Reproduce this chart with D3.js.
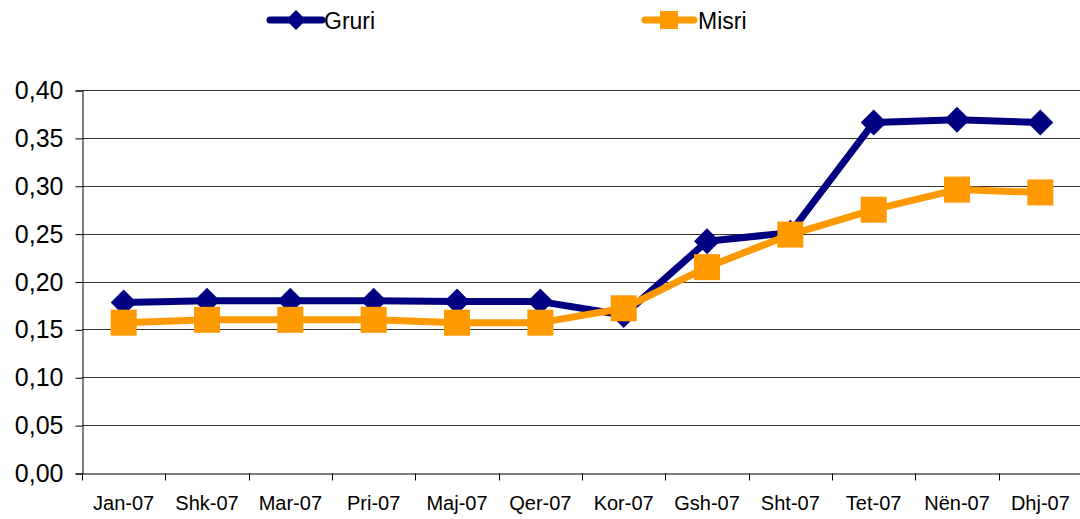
<!DOCTYPE html>
<html>
<head>
<meta charset="utf-8">
<script src="https://cdn.jsdelivr.net/npm/d3@7"></script>
<style>
  body { margin: 0; background: #fff; }
  text { font-family: "Liberation Sans", Arial, sans-serif; fill: #000; }
</style>
</head>
<body>
<div id="chart"></div>
<script>
var months = ["Jan-07","Shk-07","Mar-07","Pri-07","Maj-07","Qer-07","Kor-07","Gsh-07","Sht-07","Tet-07","Nën-07","Dhj-07"];
var gruri = [0.178,0.180,0.180,0.180,0.179,0.179,0.165,0.242,0.251,0.366,0.369,0.366];
var misri = [0.157,0.160,0.160,0.160,0.157,0.157,0.172,0.215,0.249,0.275,0.296,0.293];
var yTicks = [0,0.05,0.10,0.15,0.20,0.25,0.30,0.35,0.40];

var width = 1080, height = 519;
var plotLeft = 82, plotRight = 1082, plotTop = 90, plotBottom = 473;

var svg = d3.select("#chart").append("svg")
    .attr("width", width).attr("height", height);

var x = d3.scaleBand().domain(months).range([plotLeft, plotRight]);
var y = d3.scaleLinear().domain([0, 0.4]).range([plotBottom, plotTop]);
var fmt = function(d){ return d3.format(".2f")(d).replace(".", ","); };

// gridlines
svg.append("g").selectAll("line").data(yTicks.slice(1)).enter().append("line")
    .attr("x1", plotLeft).attr("x2", plotRight)
    .attr("y1", function(d){ return Math.round(y(d)) + 0.5; })
    .attr("y2", function(d){ return Math.round(y(d)) + 0.5; })
    .attr("stroke", "#333").attr("stroke-width", 1);

// y axis
var yAxis = svg.append("g")
    .attr("transform", "translate(" + (plotLeft + 0.5) + ",0.5)")
    .call(d3.axisLeft(y).tickValues(yTicks).tickFormat(fmt).tickSize(7).tickPadding(12));
yAxis.selectAll("text").style("font-size", "25px");

// x axis with ticks at category boundaries
var xAxis = svg.append("g")
    .attr("transform", "translate(0," + (plotBottom + 0.5) + ")")
    .call(d3.axisBottom(x).tickSize(0).tickPadding(22));
xAxis.selectAll("text").style("font-size", "20px");
xAxis.append("g").selectAll("line").data(d3.range(months.length + 1)).enter().append("line")
    .attr("x1", function(i){ return Math.round(plotLeft + i * x.step()) + 0.5; })
    .attr("x2", function(i){ return Math.round(plotLeft + i * x.step()) + 0.5; })
    .attr("y1", 0).attr("y2", 7)
    .attr("stroke", "#000");
svg.selectAll(".domain").attr("stroke", "#000");

var cx = function(d, i){ return x(months[i]) + x.bandwidth() / 2; };
var line = d3.line().x(cx).y(function(d){ return y(d); });

// Gruri
svg.append("path").datum(gruri)
    .attr("fill", "none").attr("stroke", "#000080").attr("stroke-width", 7)
    .attr("stroke-linejoin", "round").attr("d", line);
svg.append("g").selectAll("path").data(gruri).enter().append("path")
    .attr("transform", function(d, i){ return "translate(" + cx(d, i) + "," + y(d) + ")"; })
    .attr("d", "M0,-13L13,0L0,13L-13,0Z")
    .attr("fill", "#000080");

// Misri
svg.append("path").datum(misri)
    .attr("fill", "none").attr("stroke", "#ff9900").attr("stroke-width", 7)
    .attr("stroke-linejoin", "round").attr("d", line);
svg.append("g").selectAll("rect").data(misri).enter().append("rect")
    .attr("x", function(d, i){ return cx(d, i) - 13; })
    .attr("y", function(d){ return y(d) - 13; })
    .attr("width", 26).attr("height", 26)
    .attr("fill", "#ff9900");

// legend
var leg = svg.append("g");
leg.append("line").attr("x1", 270).attr("x2", 322).attr("y1", 20).attr("y2", 20)
    .attr("stroke", "#000080").attr("stroke-width", 7).attr("stroke-linecap", "round");
leg.append("path").attr("transform", "translate(296,20)")
    .attr("d", "M0,-10L10,0L0,10L-10,0Z").attr("fill", "#000080");
leg.append("text").attr("x", 324).attr("y", 29).style("font-size", "23px").text("Gruri");

leg.append("line").attr("x1", 645).attr("x2", 694).attr("y1", 20).attr("y2", 20)
    .attr("stroke", "#ff9900").attr("stroke-width", 7).attr("stroke-linecap", "round");
leg.append("rect").attr("x", 660).attr("y", 11).attr("width", 18).attr("height", 18)
    .attr("fill", "#ff9900");
leg.append("text").attr("x", 698).attr("y", 29).style("font-size", "23px").text("Misri");
</script>
</body>
</html>
